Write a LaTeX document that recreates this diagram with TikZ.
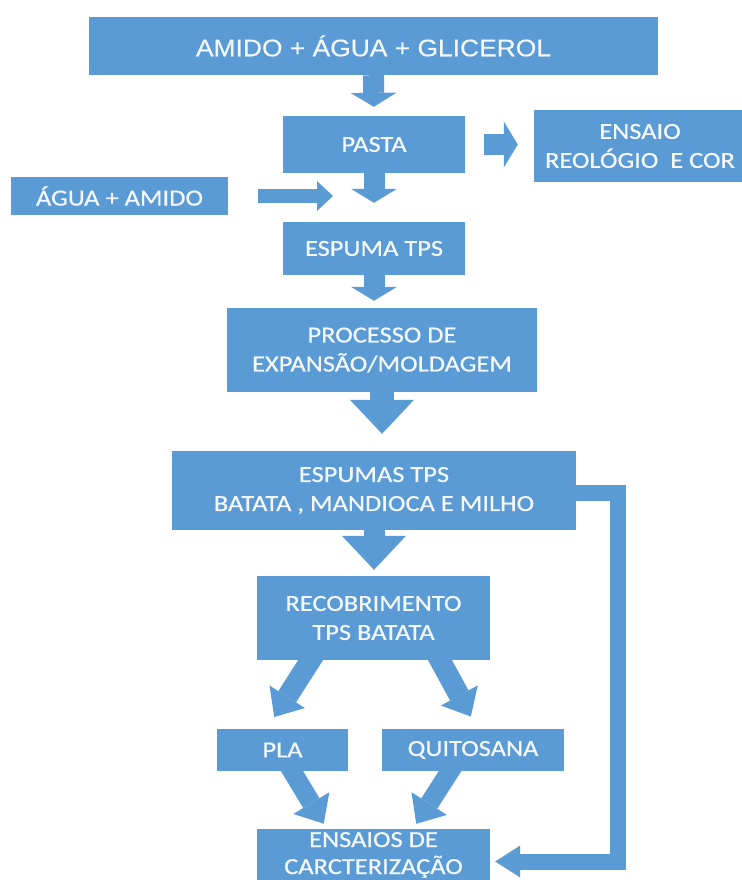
\documentclass[tikz,border=0pt]{standalone}
\usepackage{fontspec}
\setmainfont{Carlito}[FakeStretch=1.15,FakeBold=0.6]
\newfontfamily\headfont{Liberation Sans}[FakeStretch=1.1,FakeBold=0.4]
\usepackage{tikz}
\usetikzlibrary{calc,arrows.meta,positioning}
\definecolor{boxblue}{HTML}{5B9BD5}
\definecolor{boxtext}{HTML}{F4F8FC}
\tikzset{
  box/.style={fill=boxblue, draw=none, text=boxtext, align=center, inner sep=0pt, font=\fontsize{23}{29}\selectfont},
  flow/.style={draw=boxblue, line width=21pt, -{Triangle[width=46pt,length=14pt,line width=0pt]}},
  bigflow/.style={draw=boxblue, line width=24pt, -{Triangle[width=64pt,length=34pt,line width=0pt]}},
  side/.style={draw=boxblue, line width=14pt, -{Triangle[width=30pt,length=16pt,line width=0pt]}},
  slant/.style={draw=boxblue, line width=21pt, shorten <=-12pt, -{Triangle[width=42pt,length=24pt,line width=0pt]}},
  feed/.style={draw=boxblue, line width=16pt, line join=miter, -{Triangle[width=32pt,length=25pt,line width=0pt]}},
}
\begin{document}
\begin{tikzpicture}[x=1pt,y=-1pt]
\useasboundingbox (0,0) rectangle (741,880);
\fill[white] (0,0) rectangle (741,880);

% boxes
\node[box, minimum width=569pt, minimum height=58pt, font={\headfont\fontsize{24}{29}\selectfont}] (mix) at (373.5,46) {AMIDO + ÁGUA + GLICEROL};
\node[box, minimum width=182pt, minimum height=57pt] (pasta) at (374,144.5) {PASTA};
\node[box, minimum width=212pt, minimum height=72pt] (ensaio) at (640,146) {ENSAIO\\REOLÓGIO \ E COR};
\node[box, minimum width=217pt, minimum height=38pt] (agua) at (119.5,196) {ÁGUA + AMIDO};
\node[box, minimum width=182pt, minimum height=53pt] (espuma) at (374,248.5) {ESPUMA TPS};
\node[box, minimum width=310pt, minimum height=84pt] (processo) at (382,350) {PROCESSO DE\\EXPANSÃO/MOLDAGEM};
\node[box, minimum width=404pt, minimum height=79pt] (espumas) at (374,490.5) {ESPUMAS TPS\\BATATA , MANDIOCA E MILHO};
\node[box, minimum width=233pt, minimum height=84pt] (recob) at (373.5,618) {RECOBRIMENTO\\TPS BATATA};
\node[box, minimum width=131pt, minimum height=42pt] (pla) at (282.5,750) {PLA};
\node[box, minimum width=182pt, minimum height=42pt] (quito) at (473,750) {QUITOSANA};
\node[box, minimum width=233pt, minimum height=52pt, font=\fontsize{23}{27}\selectfont] (carac) at (373.5,855) {ENSAIOS DE\\CARCTERIZAÇÃO};

% main column
\draw[flow, shorten >=9pt] (mix.south) -- (pasta.north);
\draw[flow, shorten >=19pt] (pasta.south) -- (espuma.north);
\draw[flow, shorten >=7pt] (espuma.south) -- (espuma.south |- processo.north);
\draw[bigflow, shorten >=17pt] (processo.south) -- (processo.south |- espumas.north);
\draw[bigflow, line width=21pt, shorten >=6pt] (espumas.south) -- (espumas.south |- recob.north);

% side arrows
\draw[flow, shorten <=19pt, shorten >=16pt] (pasta.east) -- (ensaio.west |- pasta.east);
\coordinate (merge) at (333,196);
\draw[side, shorten <=30pt] (agua.east) -- (merge);

% coating branches
\draw[slant, shorten >=14pt] ($(recob.south west)!0.23!(recob.south east)$) -- ($(pla.north west)!0.38!(pla.north east)$);
\draw[slant, shorten >=14pt] ($(recob.south west)!0.785!(recob.south east)$) -- ($(quito.north west)!0.525!(quito.north east)$);
\draw[slant, line width=19pt, shorten >=6pt] ($(pla.south west)!0.573!(pla.south east)$) -- ($(carac.north west)!0.30!(carac.north east)$);
\draw[slant, line width=19pt, shorten >=6pt] ($(quito.south west)!0.374!(quito.south east)$) -- ($(carac.north west)!0.669!(carac.north east)$);

% return line
\coordinate (turn) at (618,493);
\draw[feed, shorten >=5pt] ([yshift=-2.5pt]espumas.east) -- (turn) |- ([yshift=-6.5pt]carac.east);
\end{tikzpicture}
\end{document}
